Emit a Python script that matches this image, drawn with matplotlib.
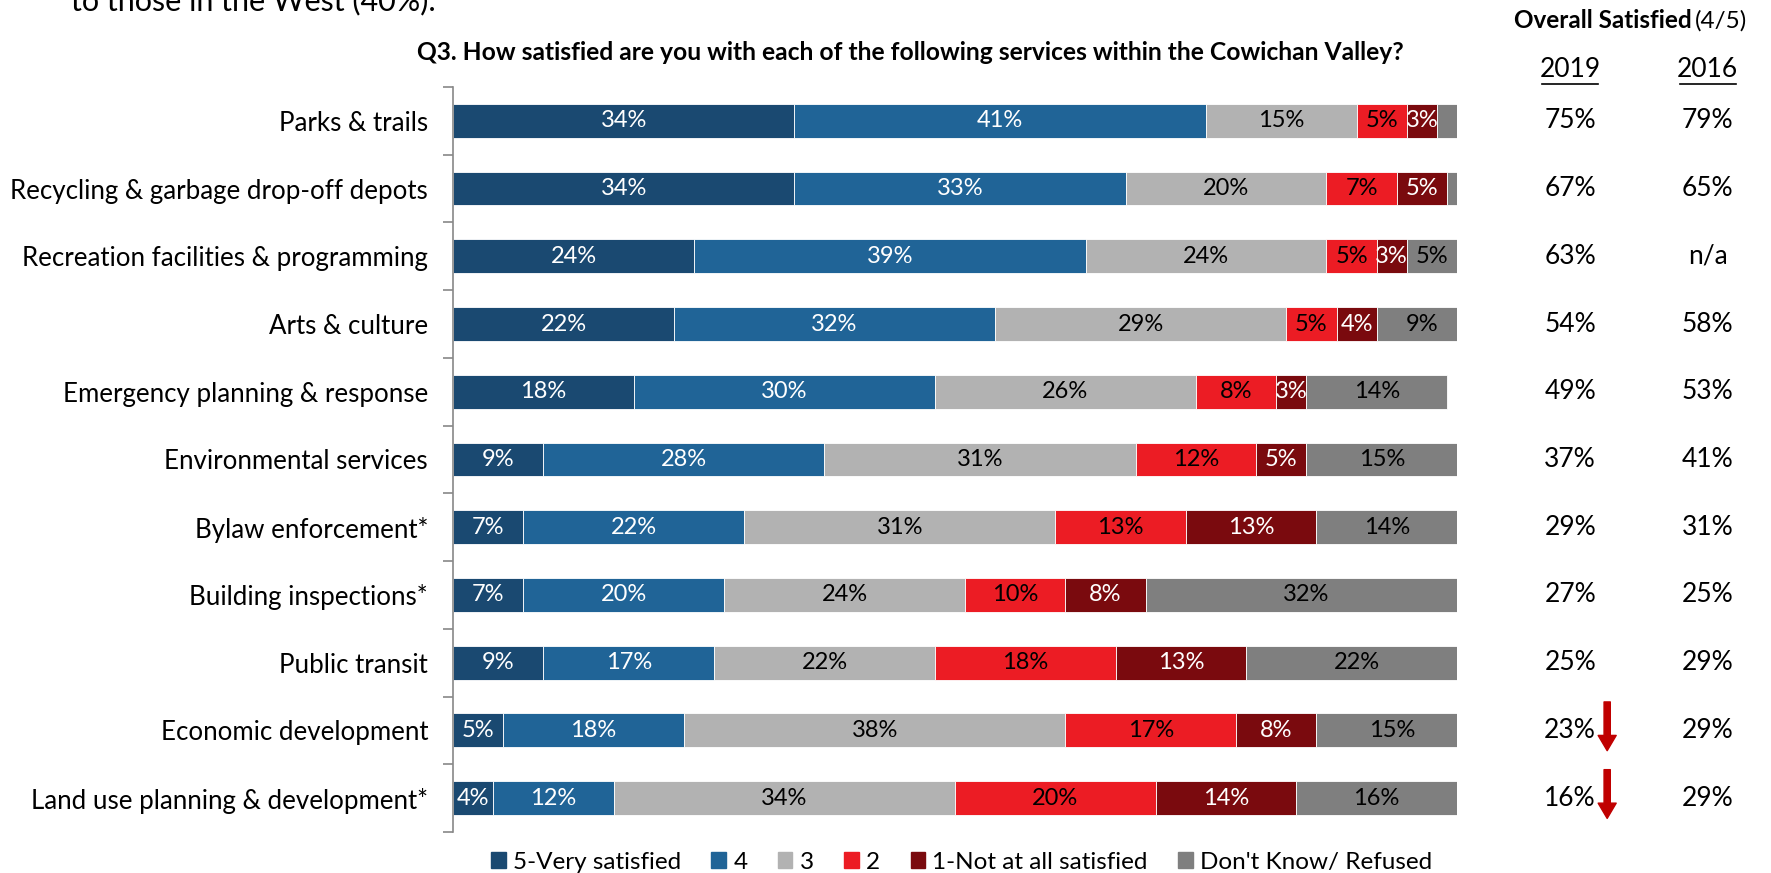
import matplotlib.pyplot as plt
import numpy as np
from matplotlib.transforms import blended_transform_factory
from matplotlib.lines import Line2D
from matplotlib.patches import Patch

plt.rcParams['font.family'] = ['Lato', 'DejaVu Sans']

categories = [
    "Parks & trails",
    "Recycling & garbage drop-off depots",
    "Recreation facilities & programming",
    "Arts & culture",
    "Emergency planning & response",
    "Environmental services",
    "Bylaw enforcement*",
    "Building inspections*",
    "Public transit",
    "Economic development",
    "Land use planning & development*",
]
very_satisfied = [34, 34, 24, 22, 18, 9, 7, 7, 9, 5, 4]
rating_4 = [41, 33, 39, 32, 30, 28, 22, 20, 17, 18, 12]
rating_3 = [15, 20, 24, 29, 26, 31, 31, 24, 22, 38, 34]
rating_2 = [5, 7, 5, 5, 8, 12, 13, 10, 18, 17, 20]
not_satisfied = [3, 5, 3, 4, 3, 5, 13, 8, 13, 8, 14]
dont_know = [2, 1, 5, 9, 14, 15, 14, 32, 22, 15, 16]

series_names = ["5-Very satisfied", "4", "3", "2", "1-Not at all satisfied", "Don't Know/ Refused"]
colors = ["#1A4971", "#206497", "#B2B2B2", "#EC1C24", "#7A0A0E", "#7F7F7F"]
text_colors = ["white", "white", "black", "black", "white", "black"]

overall_2019 = [75, 67, 63, 54, 49, 37, 29, 27, 25, 23, 16]
overall_2016 = [79, 65, None, 58, 53, 41, 31, 25, 29, 29, 29]
declined = [False] * 9 + [True, True]

series = [very_satisfied, rating_4, rating_3, rating_2, not_satisfied, dont_know]

fig = plt.figure(figsize=(17.71, 8.73), dpi=100)
ax = fig.add_axes([0.2558, 0.047, 0.5669, 0.8534])

y = np.arange(len(categories))
left = np.zeros(len(categories))
for vals, name, col, tcol in zip(series, series_names, colors, text_colors):
    vals = np.array(vals, dtype=float)
    ax.barh(y, vals, left=left, height=0.5, color=col, edgecolor="white",
            linewidth=0.6, label=name)
    for yi, (l, v) in enumerate(zip(left, vals)):
        if v >= 3:
            ax.text(l + v / 2, yi, f"{int(v)}%", ha="center", va="center",
                    fontsize=17, color=tcol)
    left += vals

ax.set_xlim(0, 100)
ax.set_ylim(len(categories) - 0.5, -0.5)
ax.set_xticks([])
ax.set_yticks(y)
ax.set_yticklabels(categories, fontsize=18.6)
ax.set_yticks(np.arange(-0.5, len(categories)), minor=True)
ax.tick_params(axis="y", which="major", length=0, pad=18)
ax.tick_params(axis="y", which="minor", length=7, width=1.2, color="#888888")
for side in ["top", "right", "bottom"]:
    ax.spines[side].set_visible(False)
ax.spines["left"].set_color("#888888")
ax.spines["left"].set_linewidth(1.2)

# overall satisfied columns on the right
tr = blended_transform_factory(fig.transFigure, ax.transData)
x19, x16 = 0.8866, 0.9643
for yi, (a, b) in enumerate(zip(overall_2019, overall_2016)):
    ax.text(x19, yi, f"{a}%", transform=tr, ha="center", va="center", fontsize=19)
    ax.text(x16, yi, "n/a" if b is None else f"{b}%", transform=tr,
            ha="center", va="center", fontsize=19)
    if declined[yi]:
        ax.annotate("", xy=(0.9075, yi + 0.3), xytext=(0.9075, yi - 0.42),
                    xycoords=tr, textcoords=tr,
                    arrowprops=dict(width=4.5, headwidth=13, headlength=11,
                                    color="#C00000", shrink=0))

fig.text(0.04, 0.988, "to those in the West (40%).", fontsize=22, va="baseline")
fig.text(0.514, 0.940, "Q3. How satisfied are you with each of the following services within the Cowichan Valley?",
         ha="center", va="center", fontsize=17.7, weight="bold")
fig.text(0.955, 0.976, "Overall Satisfied", ha="right", va="center", fontsize=17.5, weight="bold")
fig.text(0.957, 0.976, "(4/5)", ha="left", va="center", fontsize=17.5)
fig.text(x19, 0.92, "2019", ha="center", va="center", fontsize=19)
fig.text(x16, 0.92, "2016", ha="center", va="center", fontsize=19)
for xc in (x19, x16):
    fig.add_artist(Line2D([xc - 0.0158, xc + 0.0158], [0.904, 0.904],
                          transform=fig.transFigure, color="black", linewidth=1.2))

handles = [Patch(color=c) for c in colors]
fig.legend(handles, series_names, loc="center", bbox_to_anchor=(0.543, 0.0126),
           ncol=6, frameon=False, fontsize=17.5, handlelength=0.6, handleheight=0.6,
           handletextpad=0.3, columnspacing=1.25)

fig.savefig("out.png", dpi=100)
